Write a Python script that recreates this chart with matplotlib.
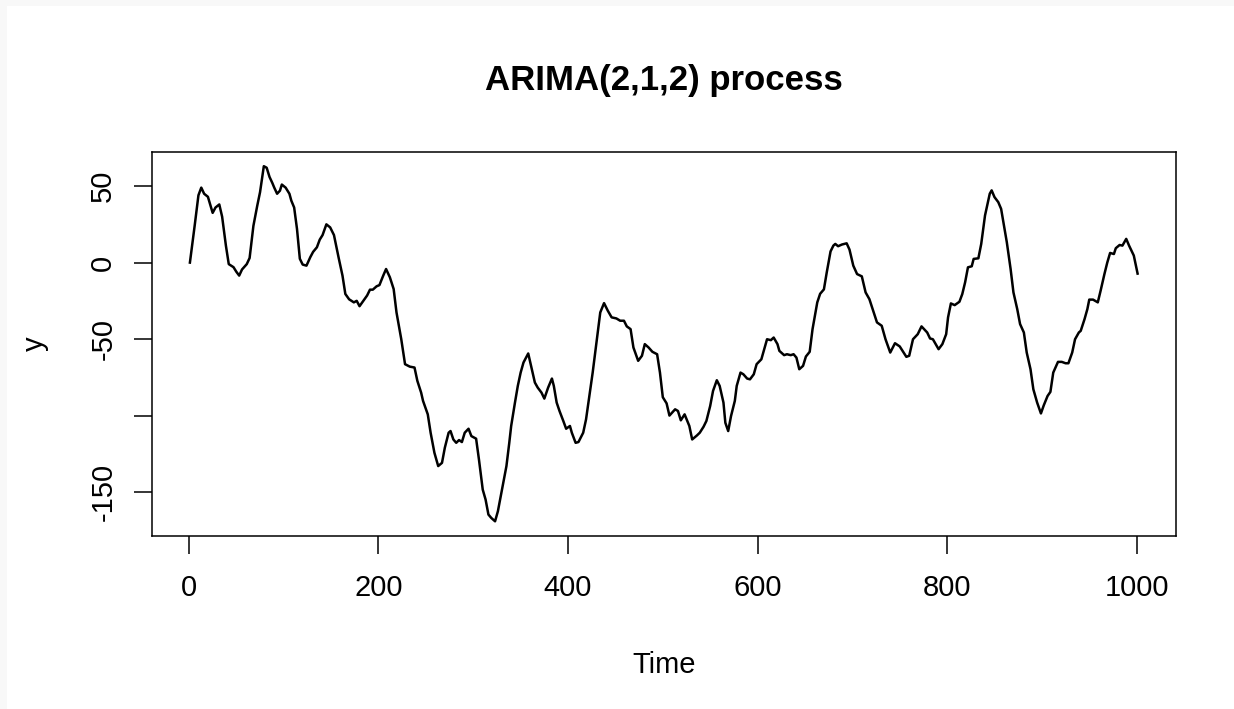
import numpy as np
import matplotlib
matplotlib.use("Agg")
from matplotlib import pyplot as plt
from matplotlib.patches import Rectangle

plt.rcParams['font.family'] = ['Liberation Sans', 'DejaVu Sans']

# simulated ARIMA(2,1,2) path, read at the turning points
time = [1, 6, 10, 13, 16, 20, 25, 28, 32, 35, 39, 42, 47, 50, 53, 56, 61, 64, 68, 72,
        75, 79, 82, 85, 88, 90, 93, 96, 98, 102, 106, 108, 111, 114, 117, 120, 124, 128, 131, 135,
        138, 141, 145, 149, 153, 156, 158, 162, 165, 169, 174, 177, 180, 184, 188, 191, 194, 198, 201, 205,
        208, 212, 216, 219, 224, 228, 233, 238, 241, 245, 247, 252, 255, 259, 263, 267, 270, 274, 276, 279,
        282, 285, 288, 291, 295, 298, 303, 306, 310, 313, 316, 319, 323, 326, 331, 335, 338, 340, 344, 347,
        350, 353, 358, 361, 365, 368, 372, 375, 379, 383, 385, 388, 391, 395, 398, 402, 404, 408, 411, 416,
        419, 423, 426, 430, 434, 438, 442, 446, 451, 455, 459, 462, 466, 469, 474, 478, 481, 485, 489, 494,
        497, 500, 504, 507, 513, 516, 519, 523, 528, 531, 536, 539, 543, 546, 550, 553, 557, 560, 564, 566,
        569, 572, 576, 578, 582, 585, 589, 592, 596, 599, 604, 607, 610, 614, 617, 621, 623, 628, 631, 635,
        638, 641, 644, 648, 651, 655, 658, 663, 666, 670, 673, 677, 680, 682, 685, 689, 694, 697, 701, 705,
        710, 714, 718, 722, 726, 731, 735, 740, 745, 750, 753, 757, 760, 764, 769, 773, 779, 782, 785, 791,
        795, 799, 801, 804, 808, 813, 816, 819, 822, 826, 828, 833, 836, 840, 845, 847, 850, 854, 857, 860,
        863, 867, 870, 874, 877, 881, 884, 888, 891, 895, 899, 902, 906, 909, 912, 917, 921, 925, 928, 932,
        935, 939, 941, 945, 948, 950, 954, 959, 962, 966, 969, 972, 976, 978, 982, 985, 989, 992, 997, 1001]
y = [0, 24, 44, 49, 45, 43, 32.5, 36, 38, 30, 11, -1, -3, -6, -8.5, -4.5, -1, 3, 24, 37,
     46, 63, 62, 56, 52, 49, 45, 47, 51, 49, 45, 40.5, 36, 22, 2.5, -1.3, -2, 3.5, 7, 10,
     15, 18, 25, 23, 18, 9, 3, -8.5, -20.5, -24, -26, -25, -28.5, -25, -21.5, -17.7, -17.7, -15.5, -14.7, -8.5,
     -4.2, -9.6, -17.3, -32.6, -50, -66.4, -68, -68.6, -77.3, -85, -90.4, -99.2, -111.2, -124.3, -133, -130.9, -121, -111.2, -110.1, -115.6,
     -117.8, -116, -117.3, -111.2, -108.6, -113.4, -115.1, -128.7, -148.4, -154.9, -164.7, -166.9, -169.1, -162.5, -146.1, -133, -117.8, -106.8, -91.5, -80.6,
     -71.9, -65.3, -59.4, -67.5, -78.4, -81.7, -85, -88.9, -81.7, -75.8, -80.6, -91.5, -97, -103.5, -108.6, -106.8, -111.2, -117.8, -117.3, -111.2,
     -102.5, -85, -71.9, -52.2, -32.6, -26.5, -31.5, -35.8, -36.5, -38, -38, -41.7, -43.5, -55.5, -64.2, -60.9, -53.3, -55.5, -58.3, -59.9,
     -71.9, -88, -92, -100, -95.9, -97, -103.1, -99.2, -106.8, -115.6, -113, -111.2, -107.3, -103.5, -93.7, -83.9, -76.9, -80.6, -91.5, -104.7,
     -110.1, -100.3, -90.4, -80.6, -71.9, -73, -75.8, -76.3, -73, -66.4, -63.2, -56.6, -50.1, -50.7, -49, -53.3, -57.7, -60.5, -59.9, -60.5,
     -59.9, -62.1, -69.7, -67.5, -61.4, -58.3, -43.5, -26, -20.4, -17.5, -6.4, 7.3, 11.1, 12.2, 10.7, 11.8, 12.6, 8.5, -2, -7.5,
     -9, -19.5, -23.9, -31.5, -39.1, -41.3, -50.1, -58.8, -52.7, -54.8, -57.7, -61.6, -60.9, -50.1, -46.8, -41.7, -45.7, -49.6, -50.1, -56.6,
     -53.3, -46.8, -35.8, -26.7, -27.8, -25.6, -20.6, -12.9, -3.1, -2.4, 2.4, 2.8, 12.2, 30.8, 45, 47.2, 42.8, 39.5, 35.1, 24.2,
     13.3, -4.2, -19.5, -30.4, -40.2, -45.7, -58.8, -69.7, -82.8, -91.5, -98.6, -93.3, -87.2, -84.5, -71.9, -64.9, -64.9, -65.8, -65.8, -58.8,
     -50.1, -45.7, -44.6, -37, -30.4, -24.2, -24.2, -26, -18.3, -7.5, 0, 6.3, 5.6, 9.4, 11.5, 11.1, 15.5, 11.1, 4.6, -7.2]

xticks = [0, 200, 400, 600, 800, 1000]
yticks = [-150, -100, -50, 0, 50]
ytick_labels = ['-150', '', '-50', '0', '50']

W, H = 1234, 709
fig = plt.figure(figsize=(W / 100, H / 100), dpi=100)
fig.patch.set_facecolor('white')

# thin grey frame along the top and left edges
fig.patches.append(Rectangle((0, 0), 7 / W, 1, transform=fig.transFigure,
                             facecolor='#f8f8f8', edgecolor='none'))
fig.patches.append(Rectangle((0, 1 - 6 / H), 1, 6 / H, transform=fig.transFigure,
                             facecolor='#f8f8f8', edgecolor='none'))

left, right, top, bottom = 152, 1175.5, 152, 535.5
ax = fig.add_axes([left / W, 1 - bottom / H, (right - left) / W, (bottom - top) / H])

ax.plot(time, y, color='black', linewidth=1.8, solid_joinstyle='round')
ax.margins(x=0.04, y=0.04)

ax.set_xticks(xticks)
ax.set_xticklabels([str(v) for v in xticks])
ax.set_yticks(yticks)
ax.set_yticklabels(ytick_labels, rotation=90, va='center')
ax.tick_params(axis='both', length=13, width=1.1, labelsize=21, color='black')
ax.tick_params(axis='x', pad=15)
ax.tick_params(axis='y', pad=12)
for s in ax.spines.values():
    s.set_linewidth(1.1)

cx = (left + right) / 2
fig.text(cx / W, 1 - 90 / H, 'ARIMA(2,1,2) process', ha='center', va='baseline',
         fontsize=25, fontweight='bold')
fig.text(cx / W, 1 - 673 / H, 'Time', ha='center', va='baseline', fontsize=21)
fig.text(35 / W, 1 - (top + bottom) / 2 / H, 'y', ha='center', va='center',
         rotation=90, fontsize=21)

plt.savefig('out.png', dpi=100)
